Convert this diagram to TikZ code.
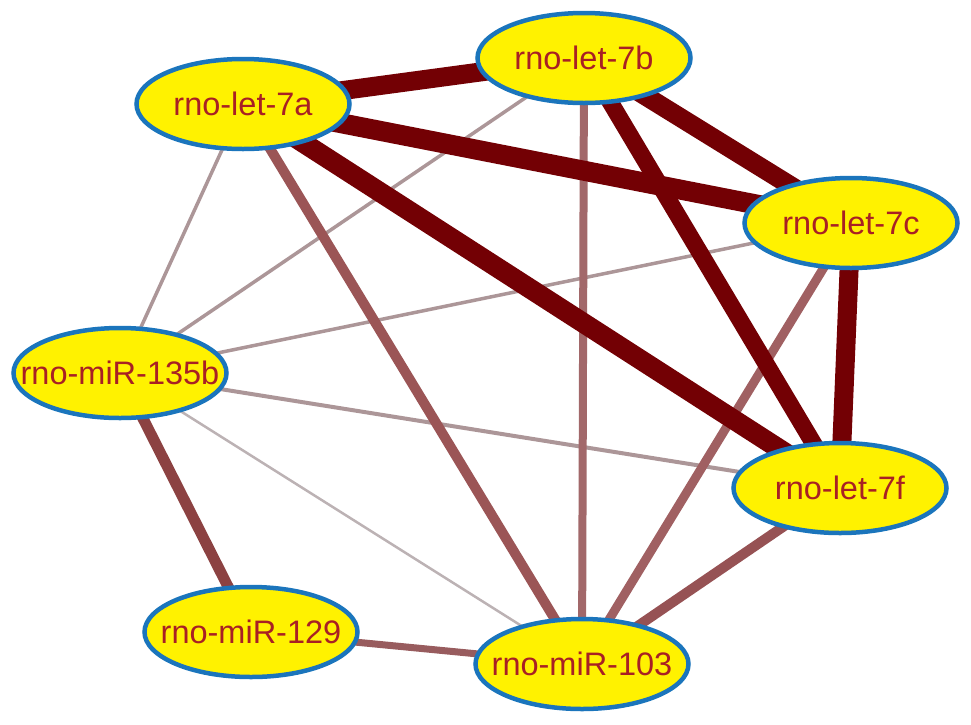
\documentclass[tikz,border=0pt]{standalone}
\usepackage{fontspec}
\setmainfont{Liberation Sans}
\usetikzlibrary{shapes.geometric,backgrounds}
\definecolor{nodeblue}{RGB}{27,117,188}
\definecolor{txtred}{RGB}{168,32,36}
\definecolor{dark}{RGB}{115,0,4}
\definecolor{medA}{RGB}{155,85,86}
\definecolor{medB}{RGB}{140,66,66}
\definecolor{medC}{RGB}{162,104,106}
\definecolor{medD}{RGB}{160,96,98}
\definecolor{medE}{RGB}{150,82,84}
\definecolor{medF}{RGB}{152,92,94}
\definecolor{thinA}{RGB}{172,150,152}
\definecolor{thinB}{RGB}{188,178,180}
\tikzset{
  mirna/.style={ellipse, draw=nodeblue, line width=4.5pt, fill=yellow,
    minimum width=213pt, minimum height=90pt, inner sep=0pt,
    text=txtred, font=\fontsize{32.5}{38}\selectfont},
  heavy/.style={draw=dark, line width=19pt},
  thinedge/.style={draw=thinA, line width=3.5pt},
}
\newcommand{\lbl}[1]{\makebox[0pt]{#1}}
\begin{document}
\begin{tikzpicture}[x=1pt,y=-1pt]
\useasboundingbox (0,0) rectangle (971,724);
\node[mirna] (a7) at (243,104) {\lbl{rno-let-7a}};
\node[mirna] (b7) at (584,58) {\lbl{rno-let-7b}};
\node[mirna] (c7) at (851,223) {\lbl{rno-let-7c}};
\node[mirna] (f7) at (840,488) {\lbl{rno-let-7f}};
\node[mirna] (m135) at (120,373) {\lbl{rno-miR-135b}};
\node[mirna] (m129) at (251,632) {\lbl{rno-miR-129}};
\node[mirna] (m103) at (582,664) {\lbl{rno-miR-103}};
\begin{scope}[on background layer]
  % thin edges
  \draw[thinedge] (a7.center) -- (m135.center);
  \draw[thinedge] (b7.center) -- (m135.center);
  \draw[thinedge] (c7.center) -- (m135.center);
  \draw[thinedge, line width=4pt] (m135.center) -- (f7.center);
  \draw[draw=thinB, line width=2.5pt] (m135.center) -- (m103.center);
  % medium edges
  \draw[draw=medA, line width=10pt] (a7.center) -- (m103.center);
  \draw[draw=medB, line width=11pt] (m135.center) -- (m129.center);
  \draw[draw=medC, line width=8pt] (b7.center) -- (m103.center);
  \draw[draw=medD, line width=9pt] (c7.center) -- (m103.center);
  \draw[draw=medE, line width=10pt] (f7.center) -- (m103.center);
  \draw[draw=medF, line width=7pt] (m129.center) -- (m103.center);
  % heavy edges
  \draw[heavy] (a7.center) -- (b7.center);
  \draw[heavy, line width=20pt] (a7.center) -- (c7.center);
  \draw[heavy, line width=20pt] (a7.center) -- (f7.center);
  \draw[heavy] (b7.center) -- (c7.center);
  \draw[heavy, line width=17pt] (b7.center) -- (f7.center);
  \draw[heavy] (c7.center) -- (f7.center);
\end{scope}
\end{tikzpicture}
\end{document}
